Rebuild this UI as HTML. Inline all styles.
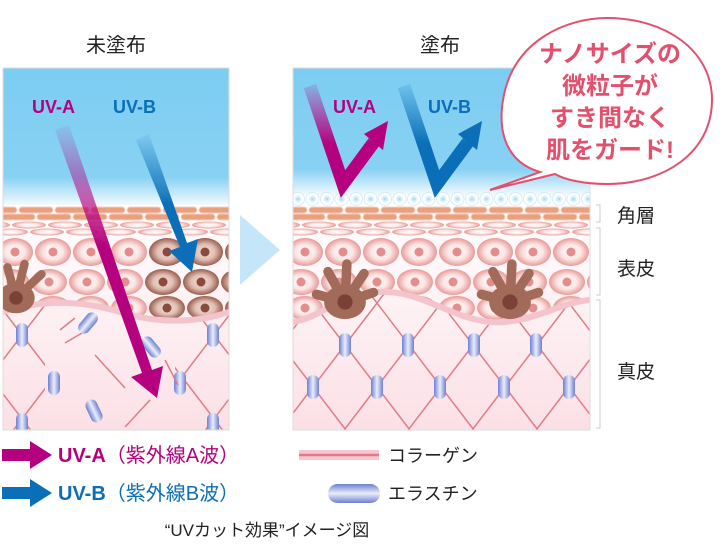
<!DOCTYPE html>
<html><head><meta charset="utf-8"><style>
body{margin:0;background:#fff;width:720px;height:558px;overflow:hidden}
svg{display:block}
text{font-family:"Liberation Sans","Noto Sans CJK JP",sans-serif}
</style></head><body>
<svg id="s" width="720" height="558" viewBox="0 0 720 558" xmlns="http://www.w3.org/2000/svg">
<defs>
<linearGradient id="sky" x1="0" y1="0" x2="0" y2="1"><stop offset="0" stop-color="#7ccdf2"/><stop offset="0.78" stop-color="#88d1f3"/><stop offset="1" stop-color="#ffffff"/></linearGradient>
<linearGradient id="derm" x1="0" y1="0" x2="0" y2="1"><stop offset="0" stop-color="#ffffff"/><stop offset="1" stop-color="#fbe0e6"/></linearGradient>
<radialGradient id="cell"><stop offset="0" stop-color="#fff"/><stop offset="0.55" stop-color="#fbe6e4"/><stop offset="1" stop-color="#e79a98"/></radialGradient>
<radialGradient id="bcell"><stop offset="0" stop-color="#f3e0da"/><stop offset="0.55" stop-color="#e0bfb4"/><stop offset="1" stop-color="#9a5c4c"/></radialGradient>
<radialGradient id="part"><stop offset="0" stop-color="#9fd8f3"/><stop offset="0.45" stop-color="#e6f5fc"/><stop offset="0.7" stop-color="#fff"/><stop offset="1" stop-color="#fff"/></radialGradient>
<linearGradient id="ela" x1="0" y1="0" x2="1" y2="0"><stop offset="0" stop-color="#6f7fd0"/><stop offset="0.5" stop-color="#e8eefa"/><stop offset="1" stop-color="#6f7fd0"/></linearGradient>
<linearGradient id="elaH" x1="0" y1="0" x2="0" y2="1"><stop offset="0" stop-color="#6f7fd0"/><stop offset="0.5" stop-color="#e8eefa"/><stop offset="1" stop-color="#6f7fd0"/></linearGradient>
<linearGradient id="ua" x1="0" y1="0" x2="0" y2="1"><stop offset="0" stop-color="#b5007f" stop-opacity="0.05"/><stop offset="0.45" stop-color="#b5007f"/><stop offset="1" stop-color="#b5007f"/></linearGradient>
<linearGradient id="ub" x1="0" y1="0" x2="0" y2="1"><stop offset="0" stop-color="#0a6fb8" stop-opacity="0.05"/><stop offset="0.5" stop-color="#0a6fb8"/><stop offset="1" stop-color="#0a6fb8"/></linearGradient>
<linearGradient id="uaV" gradientUnits="userSpaceOnUse" x1="0" y1="82" x2="0" y2="195"><stop offset="0" stop-color="#b5007f" stop-opacity="0.1"/><stop offset="0.55" stop-color="#b5007f"/><stop offset="1" stop-color="#b5007f"/></linearGradient>
<linearGradient id="ubV" gradientUnits="userSpaceOnUse" x1="0" y1="82" x2="0" y2="195"><stop offset="0" stop-color="#0a6fb8" stop-opacity="0.1"/><stop offset="0.55" stop-color="#0a6fb8"/><stop offset="1" stop-color="#0a6fb8"/></linearGradient>
<clipPath id="cL"><rect x="3" y="68" width="226" height="362"/></clipPath>
<clipPath id="cR"><rect x="293" y="68" width="297" height="362"/></clipPath>
<clipPath id="epL"><path d="M3 205H229V312C200 322 160 325 120 312C80 300 40 300 3 312Z"/></clipPath>
<clipPath id="epR"><path d="M293 205H590V300C560 302 530 325 490 322C450 318 420 290 380 292C340 294 320 318 293 322Z"/></clipPath>
<clipPath id="dmL"><path d="M3 312C40 300 80 300 120 312C160 325 200 322 229 312V430H3Z"/></clipPath>
<clipPath id="dmR"><path d="M293 322C320 318 340 294 380 292C420 290 450 318 490 322C530 325 560 302 590 300V430H293Z"/></clipPath>
<clipPath id="side"><rect x="0" y="0" width="45" height="600"/><rect x="175" y="0" width="60" height="600"/></clipPath>
</defs>
<g id="L" clip-path="url(#cL)">
<rect x="3" y="68" width="226" height="140" fill="url(#sky)"/>
<rect x="3" y="205" width="226" height="225" fill="url(#derm)"/>
<g id="epLg" clip-path="url(#epL)"></g>
<g clip-path="url(#dmL)"><g id="dmLg"></g></g>
<path d="M3 312C40 300 80 300 120 312C160 325 200 322 229 312" fill="none" stroke="#f4c4cc" stroke-width="6"/>
</g>
<g id="R" clip-path="url(#cR)">
<rect x="293" y="68" width="297" height="130" fill="url(#sky)"/>
<rect x="293" y="205" width="297" height="225" fill="url(#derm)"/>
<g id="epRg" clip-path="url(#epR)"></g>
<g id="dmRg" clip-path="url(#dmR)"></g>
<path d="M293 322C320 318 340 294 380 292C420 290 450 318 490 322C530 325 560 302 590 300" fill="none" stroke="#f4c4cc" stroke-width="6"/>
<g id="parts"></g>
</g>
<rect x="3" y="68" width="226" height="362" fill="none" stroke="#ddd"/>
<rect x="293" y="68" width="297" height="362" fill="none" stroke="#ddd"/>
<g id="mel" fill="#a26a58"></g>
<path d="M55 130L69 125L152 370L163 366L157 398L131 377L142 373Z" fill="url(#ua)"/>
<path d="M136 140L149 134L187 243L198 239L192 272L169 251L180 247Z" fill="url(#ub)"/>
<text x="32" y="113" font-size="18" font-weight="bold" fill="#b5007f">UV-A</text>
<text x="113" y="113" font-size="18" font-weight="bold" fill="#0a6fb8">UV-B</text>
<path d="M310 86L343 184L374 142" fill="none" stroke="url(#uaV)" stroke-width="13" stroke-linejoin="miter"/>
<path d="M364 134L388 121L383 150Z" fill="#b5007f"/>
<path d="M404 86L437 184L468 142" fill="none" stroke="url(#ubV)" stroke-width="13" stroke-linejoin="miter"/>
<path d="M458 134L482 121L477 150Z" fill="#0a6fb8"/>
<text x="333" y="113" font-size="18" font-weight="bold" fill="#b5007f">UV-A</text>
<text x="428" y="113" font-size="18" font-weight="bold" fill="#0a6fb8">UV-B</text>
<path d="M240 215L280 250L240 285Z" fill="#c5e6f8"/>
<text x="116" y="52" font-size="20" text-anchor="middle" fill="#222">未塗布</text>
<text x="440" y="52" font-size="20" text-anchor="middle" fill="#222">塗布</text>
<path d="M540 172C505 162 498 130 503 100C513 38 570 18 607 18C665 18 712 50 712 100C712 152 665 184 607 184C585 184 565 180 555 174L490 190Z" fill="#fff" stroke="#e3506e" stroke-width="2"/>
<g font-size="24" font-weight="bold" fill="#e3506e" text-anchor="middle">
<text x="610" y="62">ナノサイズの</text>
<text x="610" y="94">微粒子が</text>
<text x="610" y="126">すき間なく</text>
<text x="610" y="158">肌をガード!</text>
</g>
<g stroke="#ccc" fill="none">
<path d="M596 205H600V222H596"/><path d="M596 228H600V295H596"/><path d="M596 300H600V428H596"/>
</g>
<g font-size="19" fill="#222"><text x="617" y="222">角層</text><text x="617" y="275">表皮</text><text x="617" y="378">真皮</text></g>
<path d="M2 449H30V441L52 455L30 469V461H2Z" fill="#b5007f"/>
<path d="M2 487H30V479L52 493L30 507V499H2Z" fill="#0a6fb8"/>
<text x="58" y="462" font-size="20" fill="#b5007f"><tspan font-weight="bold">UV-A</tspan>（紫外線A波）</text>
<text x="58" y="500" font-size="20" fill="#0a6fb8"><tspan font-weight="bold">UV-B</tspan>（紫外線B波）</text>
<rect x="299" y="450" width="80" height="10" fill="#f7c6d2"/>
<line x1="299" y1="455" x2="379" y2="455" stroke="#e07c86" stroke-width="2.5"/>
<text x="388" y="462" font-size="18" fill="#222">コラーゲン</text>
<rect x="328" y="484" width="52" height="19" rx="9.5" fill="url(#elaH)"/>
<text x="388" y="500" font-size="18" fill="#222">エラスチン</text>
<text x="267" y="536" font-size="17" text-anchor="middle" fill="#222">“UVカット効果”イメージ図</text>
</svg>
<script>
var NS="http://www.w3.org/2000/svg";
function el(p,t,a){var e=document.createElementNS(NS,t);for(var k in a)e.setAttribute(k,a[k]);p.appendChild(e);return e;}
function epi(g,x0,x1,dark){
 for(var r=0;r<2;r++)for(var x=x0-20+r*18;x<x1;x+=36)el(g,'rect',{x:x,y:207+r*7,width:34,height:6,rx:3,fill:'#e9a07e',stroke:'#f7d2c0','stroke-width':1});
 for(var r=0;r<2;r++)for(var x=x0-10+r*18;x<x1;x+=36)el(g,'ellipse',{cx:x,cy:225+r*7,rx:17,ry:3.5,fill:'url(#cell)'});
 var rows=[[252,14],[282,13],[308,12]];
 rows.forEach(function(rw,i){for(var x=x0+12-(i%2)*4;x<x1+20;x+=38){var d=dark&&x>135;
  el(g,'ellipse',{cx:x,cy:rw[0],rx:18,ry:rw[1],fill:d?'url(#bcell)':'url(#cell)'});
  el(g,'circle',{cx:x,cy:rw[0],r:4.5,fill:d?'#8a4a3c':'#e58c8c'});}});
}
function lattice(g,ox,oy){
 for(var k=-8;k<10;k++){var bx=ox+64*k;
  [1,-1].forEach(function(s){var xa=bx-100,xb=bx+100;
   el(g,'line',{x1:xa,y1:oy+s*1.31*(xa-bx),x2:xb,y2:oy+s*1.31*(xb-bx),stroke:'#e07c86','stroke-width':1.5});});}
}
function cap(g,x,y,rot){el(g,'rect',{x:x-6,y:y-12,width:12,height:24,rx:6,fill:'url(#ela)',transform:rot?'rotate('+rot+' '+x+' '+y+')':''});}
epi(document.getElementById('epLg'),3,229,true);
epi(document.getElementById('epRg'),293,590,false);
var dR=document.getElementById('dmRg');
lattice(dR,345,345);
[[345,345],[408,345],[474,345],[536,345],[313,387],[377,387],[440,387],[504,387],[569,387]].forEach(function(p){cap(dR,p[0],p[1])});
var dL=document.getElementById('dmLg');
var gl=el(dL,'g',{'clip-path':'url(#side)'});
lattice(gl,22,335);
[[22,335],[213,335],[54,383],[180,383],[22,425],[213,425]].forEach(function(p){cap(dL,p[0],p[1])});
["M65 343L82 333","M95 355L125 388","M125 427L150 400","M165 360L178 385","M60 330L75 318"].forEach(function(d){el(dL,'path',{d:d,stroke:'#e07c86','stroke-width':1.5,fill:'none'})});
cap(dL,88,323,40);cap(dL,151,347,-40);cap(dL,94,411,-25);
var pt=document.getElementById('parts');
for(var x=298;x<595;x+=14.5)el(pt,'circle',{cx:x,cy:199,r:6.5,fill:'url(#part)',stroke:'#cde9f6','stroke-width':0.8});
var m=document.getElementById('mel');
function mel(cx,cy,sc){var g=el(m,'g',{transform:'translate('+cx+' '+cy+') scale('+sc+')'});
 el(g,'ellipse',{cx:0,cy:0,rx:22,ry:18});
 [[-30,-8],[-18,-32],[2,-40],[20,-30],[30,-10]].forEach(function(p){el(g,'line',{x1:0,y1:0,x2:p[0],y2:p[1],stroke:'#a26a58','stroke-width':10,'stroke-linecap':'round'})});
 el(g,'circle',{cx:0,cy:0,r:8,fill:'#7a4236'});}
mel(345,302,0.95);mel(510,302,0.95);
var g0=el(m,'g',{'clip-path':'url(#cL)'});
(function(){var g=el(g0,'g',{transform:'translate(16 298) scale(0.85)'});
 el(g,'ellipse',{cx:0,cy:0,rx:22,ry:18});
 [[-30,-8],[-10,-36],[10,-40],[30,-28]].forEach(function(p){el(g,'line',{x1:0,y1:0,x2:p[0],y2:p[1],stroke:'#a26a58','stroke-width':10,'stroke-linecap':'round'})});
 el(g,'circle',{cx:0,cy:0,r:8,fill:'#7a4236'});})();
</script>
</body></html>
